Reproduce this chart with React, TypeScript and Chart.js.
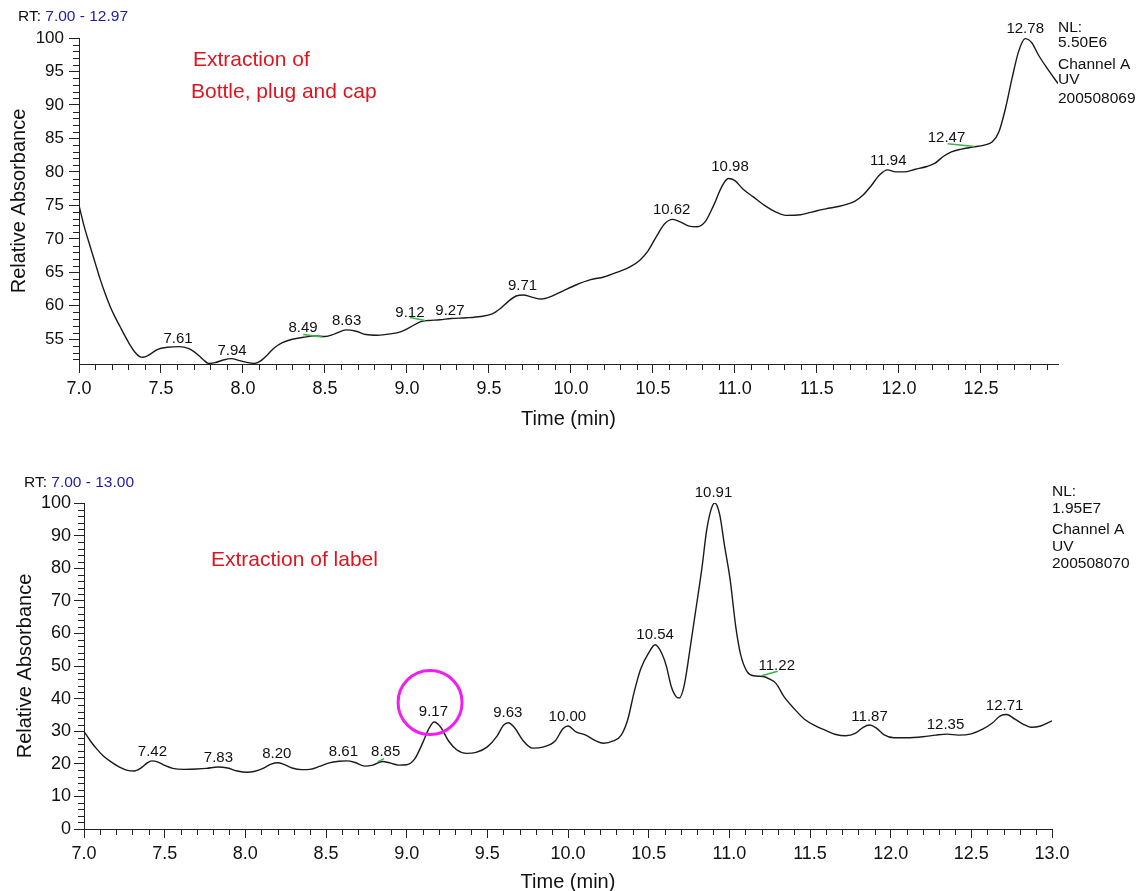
import React, { useEffect, useRef } from "react";
import { Chart, registerables } from "chart.js";

Chart.register(...registerables);

const FONT = "'Liberation Sans', Arial, Helvetica, sans-serif";

// ---------- Top chromatogram: Extraction of bottle, plug and cap ----------
const topTimes = [
  7.0, 7.03, 7.07, 7.1, 7.13, 7.16, 7.19, 7.22, 7.25, 7.28, 7.31, 7.34, 7.37, 7.39, 7.43, 7.48, 7.54, 7.61, 7.67, 7.72,
  7.76, 7.79, 7.83, 7.88, 7.93, 7.98, 8.03, 8.07, 8.11, 8.15, 8.19, 8.24, 8.3, 8.37, 8.44, 8.5, 8.56, 8.63,
  8.69, 8.75, 8.82, 8.9, 8.96, 9.02, 9.08, 9.13, 9.2, 9.27, 9.36, 9.45, 9.52, 9.57, 9.62, 9.67, 9.71, 9.76,
  9.82, 9.88, 9.95, 10.03, 10.12, 10.2, 10.28, 10.36, 10.42, 10.47, 10.52, 10.57, 10.62, 10.67, 10.72, 10.77,
  10.82, 10.87, 10.92, 10.96, 11.0, 11.05, 11.11, 11.18, 11.25, 11.31, 11.4, 11.5, 11.58, 11.66, 11.73, 11.78,
  11.83, 11.88, 11.93, 11.98, 12.03, 12.1, 12.17, 12.22, 12.27, 12.32, 12.38, 12.45, 12.52, 12.57, 12.61,
  12.65, 12.69, 12.73, 12.77, 12.81, 12.85, 12.9, 12.97,
];
const topValues = [
  75.0, 72.0, 68.7, 66.3, 63.9, 61.8, 59.9, 58.3, 56.9, 55.5, 54.2, 53.1, 52.4, 52.3, 52.7, 53.5, 53.8, 53.9, 53.6, 52.8,
  51.9, 51.4, 51.5, 51.9, 52.1, 51.8, 51.5, 51.4, 51.8, 52.7, 53.7, 54.5, 55.0, 55.3, 55.5, 55.4, 55.8, 56.4,
  56.2, 55.7, 55.6, 55.8, 56.1, 56.8, 57.6, 57.8, 57.9, 58.1, 58.2, 58.4, 58.8, 59.6, 60.7, 61.5, 61.6, 61.3,
  61.0, 61.4, 62.2, 63.1, 63.9, 64.3, 65.0, 65.8, 66.8, 68.2, 70.3, 72.2, 72.9, 72.5, 71.9, 71.8,
  72.6, 75.0, 77.8, 79.0, 78.7, 77.4, 76.3, 75.0, 74.0, 73.5, 73.6, 74.2, 74.6, 75.0, 75.6, 76.5,
  77.9, 79.5, 80.3, 80.0, 80.0, 80.4, 80.8, 81.3, 82.3, 83.0, 83.4, 83.7, 84.0, 84.5, 86.0,
  89.5, 94.0, 98.0, 99.9, 99.3, 97.5, 95.6, 93.2,
];
const topXTicks = [7.0, 7.5, 8.0, 8.5, 9.0, 9.5, 10.0, 10.5, 11.0, 11.5, 12.0, 12.5];
const topYTicks = [55, 60, 65, 70, 75, 80, 85, 90, 95, 100];
const topPeakLabels = ["7.61", "7.94", "8.49", "8.63", "9.12", "9.27", "9.71", "10.62", "10.98", "11.94", "12.47", "12.78"];
const topPeakLabelTimes = [7.604, 7.933, 8.366, 8.632, 9.018, 9.262, 9.705, 10.614, 10.97, 11.935, 12.29, 12.77];
const topPeakLabelValues = [55.1, 53.3, 56.7, 57.8, 59.0, 59.3, 63.0, 74.3, 80.7, 81.6, 85.1, 101.4];
const topGreenSegments = [
  [8.367, 55.7, 8.483, 55.35],
  [9.018, 58.25, 9.11, 57.8],
  [12.297, 84.2, 12.46, 83.8],
];
const topInfo = ["NL:", "5.50E6", "Channel A", "UV", "200508069"];

// ---------- Bottom chromatogram: Extraction of label ----------
const botTimes = [
  7.0, 7.04, 7.08, 7.12, 7.17, 7.22, 7.27, 7.31, 7.35, 7.39, 7.42, 7.46, 7.5, 7.55, 7.62, 7.7, 7.76, 7.83,
  7.89, 7.95, 8.01, 8.06, 8.11, 8.16, 8.2, 8.24, 8.29, 8.35, 8.4, 8.46, 8.52, 8.58, 8.63, 8.68, 8.74, 8.79,
  8.85, 8.9, 8.95, 9.0, 9.05, 9.1, 9.14, 9.17, 9.21, 9.26, 9.31, 9.37, 9.43, 9.5, 9.56, 9.6, 9.63, 9.67,
  9.72, 9.78, 9.85, 9.92, 9.97, 10.0, 10.05, 10.11, 10.17, 10.22, 10.28, 10.33, 10.37, 10.41, 10.45, 10.5,
  10.54, 10.58, 10.61, 10.64, 10.67, 10.69, 10.72, 10.76, 10.79, 10.83, 10.86, 10.89, 10.91, 10.94, 10.97,
  11.005, 11.04, 11.07, 11.11, 11.15, 11.21, 11.25, 11.29, 11.34, 11.4, 11.47, 11.54, 11.6, 11.66, 11.72,
  11.78, 11.83, 11.87, 11.91, 11.96, 12.02, 12.1, 12.2, 12.28, 12.35, 12.42, 12.5, 12.57, 12.63, 12.68,
  12.72, 12.77, 12.82, 12.87, 12.93, 13.0,
];
const botValues = [
  29.9, 27.0, 24.5, 22.4, 20.5, 19.0, 18.0, 17.8, 18.6, 20.2, 20.9, 20.5, 19.5, 18.6, 18.3, 18.4, 18.6, 19.0,
  18.7, 17.8, 17.4, 17.7, 18.6, 19.9, 20.3, 19.8, 18.7, 18.2, 18.3, 19.2, 20.3, 20.8, 20.9, 20.4, 19.3, 19.6,
  20.7, 20.2, 19.6, 19.7, 21.5, 26.5, 31.0, 32.8, 31.3, 27.0, 24.3, 23.2, 23.5, 25.2, 28.5, 31.8, 32.6, 31.0,
  27.2, 24.8, 25.2, 27.0, 30.8, 31.6, 29.8, 28.8, 27.1, 26.3, 27.0, 28.8, 33.5, 42.0, 49.0, 54.0,
  56.5, 54.0, 49.9, 43.7, 40.6, 40.2, 44.0, 56.5, 66.5, 80.0, 91.8, 98.5, 100.0, 96.5, 87.0,
  76.5, 62.0, 53.5, 48.3, 47.0, 46.8, 46.0, 44.6, 40.5, 37.0, 33.5, 31.5, 30.2, 29.0, 28.6,
  29.3, 31.2, 31.9, 31.0, 28.9, 28.0, 28.0, 28.3, 28.8, 29.1, 28.8, 29.2, 30.6, 32.5, 34.7,
  35.1, 33.7, 32.2, 31.2, 31.6, 33.2,
];
const botXTicks = [7.0, 7.5, 8.0, 8.5, 9.0, 9.5, 10.0, 10.5, 11.0, 11.5, 12.0, 12.5, 13.0];
const botYTicks = [0, 10, 20, 30, 40, 50, 60, 70, 80, 90, 100];
const botPeakLabels = ["7.42", "7.83", "8.20", "8.61", "8.85", "9.17", "9.63", "10.00", "10.54", "10.91", "11.22", "11.87", "12.35", "12.71"];
const botPeakLabelTimes = [7.424, 7.833, 8.195, 8.608, 8.87, 9.166, 9.627, 9.996, 10.54, 10.902, 11.294, 11.869, 12.34, 12.706];
const botPeakLabelValues = [23.6, 21.8, 23.0, 23.6, 23.6, 35.9, 35.6, 34.4, 59.6, 103.1, 49.9, 34.5, 32.0, 37.8];
const botGreenSegments = [
  [8.82, 20.6, 8.86, 21.6],
  [11.2, 47.0, 11.3, 48.4],
];
const botCircle = [9.145, 38.8];
const botInfo = ["NL:", "1.95E7", "Channel A", "UV", "200508070"];

type Panel = {
  times: number[];
  values: number[];
  xMin: number;
  xMax: number;
  yMin: number;
  yMax: number;
  xTicks: number[];
  yTicks: number[];
  yMinorStep: number;
  yMajorStep: number;
  height: number;
  padTop: number;
  padRight: number;
  yWidth: number;
  xHeight: number;
  yTickFont: number;
  yTickPad: number;
  yTitlePad: number;
  xTitlePad: number;
  peakLabels: string[];
  peakTimes: number[];
  peakValues: number[];
  green: number[][];
  circle?: number[];
  rtLeft: number;
  rtY: number;
  rtRange: string;
  redLines: { text: string; x: number; y: number }[];
  info: string[];
  infoX: number;
  infoY: number[];
};

function makeChart(canvas: HTMLCanvasElement, p: Panel) {
  const annot = {
    id: "annot",
    afterDraw(chart: any) {
      const ctx = chart.ctx as CanvasRenderingContext2D;
      const xs = chart.scales.x;
      const ys = chart.scales.y;
      const area = chart.chartArea;
      ctx.save();
      // minor ticks
      ctx.strokeStyle = "#222";
      ctx.lineWidth = 1;
      ctx.beginPath();
      const k0 = Math.ceil(p.xMin * 10 - 1e-6);
      const k1 = Math.floor(p.xMax * 10 + 1e-6);
      for (let k = k0; k <= k1; k++) {
        if (k % 5 === 0) continue;
        const px = Math.round(xs.getPixelForValue(k / 10)) + 0.5;
        ctx.moveTo(px, area.bottom);
        ctx.lineTo(px, area.bottom + 6);
      }
      const s0 = Math.ceil(p.yMin / p.yMinorStep - 1e-6);
      const s1 = Math.floor(p.yMax / p.yMinorStep + 1e-6);
      for (let s = s0; s <= s1; s++) {
        const v = s * p.yMinorStep;
        if (Math.abs(v / p.yMajorStep - Math.round(v / p.yMajorStep)) < 1e-6) continue;
        const py = Math.round(ys.getPixelForValue(v)) + 0.5;
        ctx.moveTo(area.left - 6, py);
        ctx.lineTo(area.left, py);
      }
      ctx.stroke();

      // green baseline segments
      ctx.strokeStyle = "#3cb44b";
      ctx.lineWidth = 1.5;
      for (const g of p.green) {
        ctx.beginPath();
        ctx.moveTo(xs.getPixelForValue(g[0]), ys.getPixelForValue(g[1]));
        ctx.lineTo(xs.getPixelForValue(g[2]), ys.getPixelForValue(g[3]));
        ctx.stroke();
      }

      // peak labels
      ctx.fillStyle = "#111";
      ctx.font = `15px ${FONT}`;
      ctx.textAlign = "center";
      ctx.textBaseline = "middle";
      p.peakLabels.forEach((lab, i) => {
        ctx.fillText(lab, xs.getPixelForValue(p.peakTimes[i]), ys.getPixelForValue(p.peakValues[i]));
      });

      // circle
      if (p.circle) {
        ctx.strokeStyle = "#f01ef0";
        ctx.lineWidth = 3;
        ctx.beginPath();
        ctx.arc(xs.getPixelForValue(p.circle[0]), ys.getPixelForValue(p.circle[1]), 32, 0, Math.PI * 2);
        ctx.stroke();
      }

      // RT line
      ctx.textAlign = "left";
      ctx.font = `15.5px ${FONT}`;
      ctx.fillStyle = "#111";
      const rt = "RT: ";
      ctx.fillText(rt, p.rtLeft, p.rtY);
      const w = ctx.measureText(rt).width;
      ctx.fillStyle = "#1c1ca8";
      ctx.fillText(p.rtRange, p.rtLeft + w, p.rtY);

      // red annotation
      ctx.fillStyle = "#e0141e";
      ctx.font = `21px ${FONT}`;
      for (const r of p.redLines) ctx.fillText(r.text, r.x, r.y);

      // info block
      ctx.fillStyle = "#111";
      ctx.font = `15.5px ${FONT}`;
      p.info.forEach((t, i) => ctx.fillText(t, p.infoX, p.infoY[i]));
      ctx.restore();
    },
  };

  return new Chart(canvas, {
    type: "line",
    data: {
      datasets: [
        {
          data: p.times.map((t, i) => ({ x: t, y: p.values[i] })),
          borderColor: "#1a1a1a",
          borderWidth: 1.4,
          pointRadius: 0,
          cubicInterpolationMode: "monotone",
          fill: false,
        },
      ],
    },
    options: {
      animation: false,
      responsive: false,
      maintainAspectRatio: false,
      layout: { padding: { top: p.padTop, right: p.padRight, left: 0, bottom: 0 } },
      plugins: { legend: { display: false }, tooltip: { enabled: false } },
      scales: {
        x: {
          type: "linear",
          min: p.xMin,
          max: p.xMax,
          afterBuildTicks: (s: any) => {
            s.ticks = p.xTicks.map((v) => ({ value: v }));
          },
          afterFit: (s: any) => {
            s.height = p.xHeight;
          },
          ticks: {
            callback: (v: any) => Number(v).toFixed(1),
            font: { family: FONT, size: 18 },
            color: "#111",
            padding: 5,
            maxRotation: 0,
            autoSkip: false,
          },
          grid: { display: true, drawOnChartArea: false, drawTicks: true, tickLength: 9, color: "#222", lineWidth: 1 },
          border: { display: true, color: "#222", width: 1 },
          title: {
            display: true,
            text: "Time (min)",
            font: { family: FONT, size: 20 },
            color: "#111",
            padding: { top: 0, bottom: p.xTitlePad },
          },
        },
        y: {
          type: "linear",
          min: p.yMin,
          max: p.yMax,
          afterBuildTicks: (s: any) => {
            s.ticks = p.yTicks.map((v) => ({ value: v }));
          },
          afterFit: (s: any) => {
            s.width = p.yWidth;
          },
          ticks: {
            callback: (v: any) => String(v),
            font: { family: FONT, size: p.yTickFont },
            color: "#111",
            padding: p.yTickPad,
            autoSkip: false,
          },
          grid: { display: true, drawOnChartArea: false, drawTicks: true, tickLength: 10, color: "#222", lineWidth: 1 },
          border: { display: true, color: "#222", width: 1 },
          title: {
            display: true,
            text: "Relative Absorbance",
            font: { family: FONT, size: 20 },
            color: "#111",
            padding: { top: p.yTitlePad, bottom: 0 },
          },
        },
      },
    },
    plugins: [annot],
  } as any);
}

const topPanel: Panel = {
  times: topTimes,
  values: topValues,
  xMin: 7.0,
  xMax: 12.97,
  yMin: 51.3,
  yMax: 100,
  xTicks: topXTicks,
  yTicks: topYTicks,
  yMinorStep: 1,
  yMajorStep: 5,
  height: 440,
  padTop: 38,
  padRight: 81,
  yWidth: 79,
  xHeight: 76,
  yTickFont: 17,
  yTickPad: 5,
  yTitlePad: 7,
  xTitlePad: 9,
  peakLabels: topPeakLabels,
  peakTimes: topPeakLabelTimes,
  peakValues: topPeakLabelValues,
  green: topGreenSegments,
  rtLeft: 18,
  rtY: 17,
  rtRange: "7.00 - 12.97",
  redLines: [
    { text: "Extraction of", x: 193, y: 60 },
    { text: "Bottle, plug and cap", x: 191, y: 92 },
  ],
  info: topInfo,
  infoX: 1058,
  infoY: [28, 43, 65, 80, 99],
};

const botPanel: Panel = {
  times: botTimes,
  values: botValues,
  xMin: 7.0,
  xMax: 13.0,
  yMin: 0,
  yMax: 100,
  xTicks: botXTicks,
  yTicks: botYTicks,
  yMinorStep: 2,
  yMajorStep: 10,
  height: 460,
  padTop: 58,
  padRight: 87,
  yWidth: 84,
  xHeight: 76,
  yTickFont: 18,
  yTickPad: 3,
  yTitlePad: 13,
  xTitlePad: 11,
  peakLabels: botPeakLabels,
  peakTimes: botPeakLabelTimes,
  peakValues: botPeakLabelValues,
  green: botGreenSegments,
  circle: botCircle,
  rtLeft: 24,
  rtY: 38,
  rtRange: "7.00 - 13.00",
  redLines: [{ text: "Extraction of label", x: 211, y: 115 }],
  info: botInfo,
  infoX: 1052,
  infoY: [47, 64, 85, 102, 119],
};

function Panel({ panel, top }: { panel: Panel; top: number }) {
  const ref = useRef<HTMLCanvasElement | null>(null);
  useEffect(() => {
    if (!ref.current) return;
    const c = makeChart(ref.current, panel);
    return () => c.destroy();
  }, [panel]);
  return (
    <canvas
      ref={ref}
      width={1139}
      height={panel.height}
      style={{ position: "absolute", left: 0, top, width: 1139, height: panel.height, display: "block" }}
    />
  );
}

export default function App() {
  return (
    <div
      style={{
        position: "absolute",
        left: 0,
        top: 0,
        width: 1139,
        height: 891,
        overflow: "hidden",
        background: "#fff",
      }}
    >
      <Panel panel={topPanel} top={0} />
      <Panel panel={botPanel} top={445} />
    </div>
  );
}
